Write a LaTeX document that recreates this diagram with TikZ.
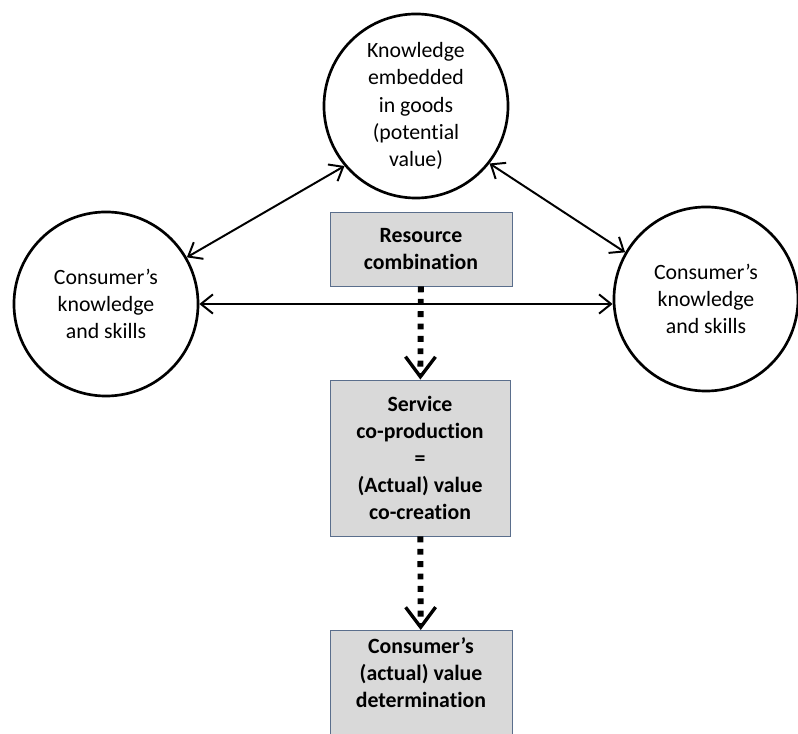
\documentclass[tikz,border=0pt]{standalone}
\usepackage{fontspec}
\setmainfont{Carlito}[Ligatures=NoCommon]
\usepackage{xcolor}
\usepackage{tikz}
\usetikzlibrary{arrows.meta,positioning}
\definecolor{boxedge}{HTML}{5A6E8C}
\definecolor{boxfill}{HTML}{D9D9D9}

\begin{document}
\begin{tikzpicture}[
  x=0.025cm, y=-0.025cm,
  font=\fontsize{15.5}{19.3}\selectfont,
  actor/.style={circle,draw=black,line width=1.9pt,minimum size=4.6cm,align=center,inner sep=0pt},
  stage/.style={rectangle,draw=boxedge,fill=boxfill,line width=0.6pt,minimum width=4.55cm,
                align=center,font=\fontsize{15.5}{19.3}\selectfont\bfseries},
  link/.style={{Straight Barb[length=3mm,width=4.8mm]}-{Straight Barb[length=3mm,width=4.8mm]},line width=1.4pt},
  flow/.style={-{Straight Barb[length=5mm,width=7.5mm,line width=2.4pt]},line width=4.2pt,
               dash pattern=on 4.2pt off 4.6pt}
]
\useasboundingbox (0,0) rectangle (798,734);
\clip (0,0) rectangle (798,734);
% knowledge holders
\node[actor] (goods) at (416,106) {Knowledge\\embedded\\in goods\\(potential\\value)};
\node[actor] (lcons) at (106,304) {Consumer’s\\knowledge\\and skills};
\node[actor] (rcons) at (706,299) {Consumer’s\\knowledge\\and skills};
% process boxes
\node[stage,minimum height=1.85cm] (combo) at (421,249) {Resource\\combination};
\node[stage,minimum height=3.9cm,minimum width=4.5cm] (coprod) at (420,458)
  {Service\\co-production\\=\\(Actual) value\\co-creation};
\node[stage,anchor=north,inner ysep=5pt,text depth=1.6cm] (determ) at (421,630)
  {Consumer’s\\(actual) value\\determination};
\draw[link] (lcons.30) -- (goods.220);
\draw[link] (goods.322) -- (rcons.150);
\draw[link] (lcons.east) -- (lcons.east -| rcons.west);
\draw[flow] (combo) -- (coprod);
\draw[flow] (coprod) -- (determ);
\end{tikzpicture}
\end{document}
